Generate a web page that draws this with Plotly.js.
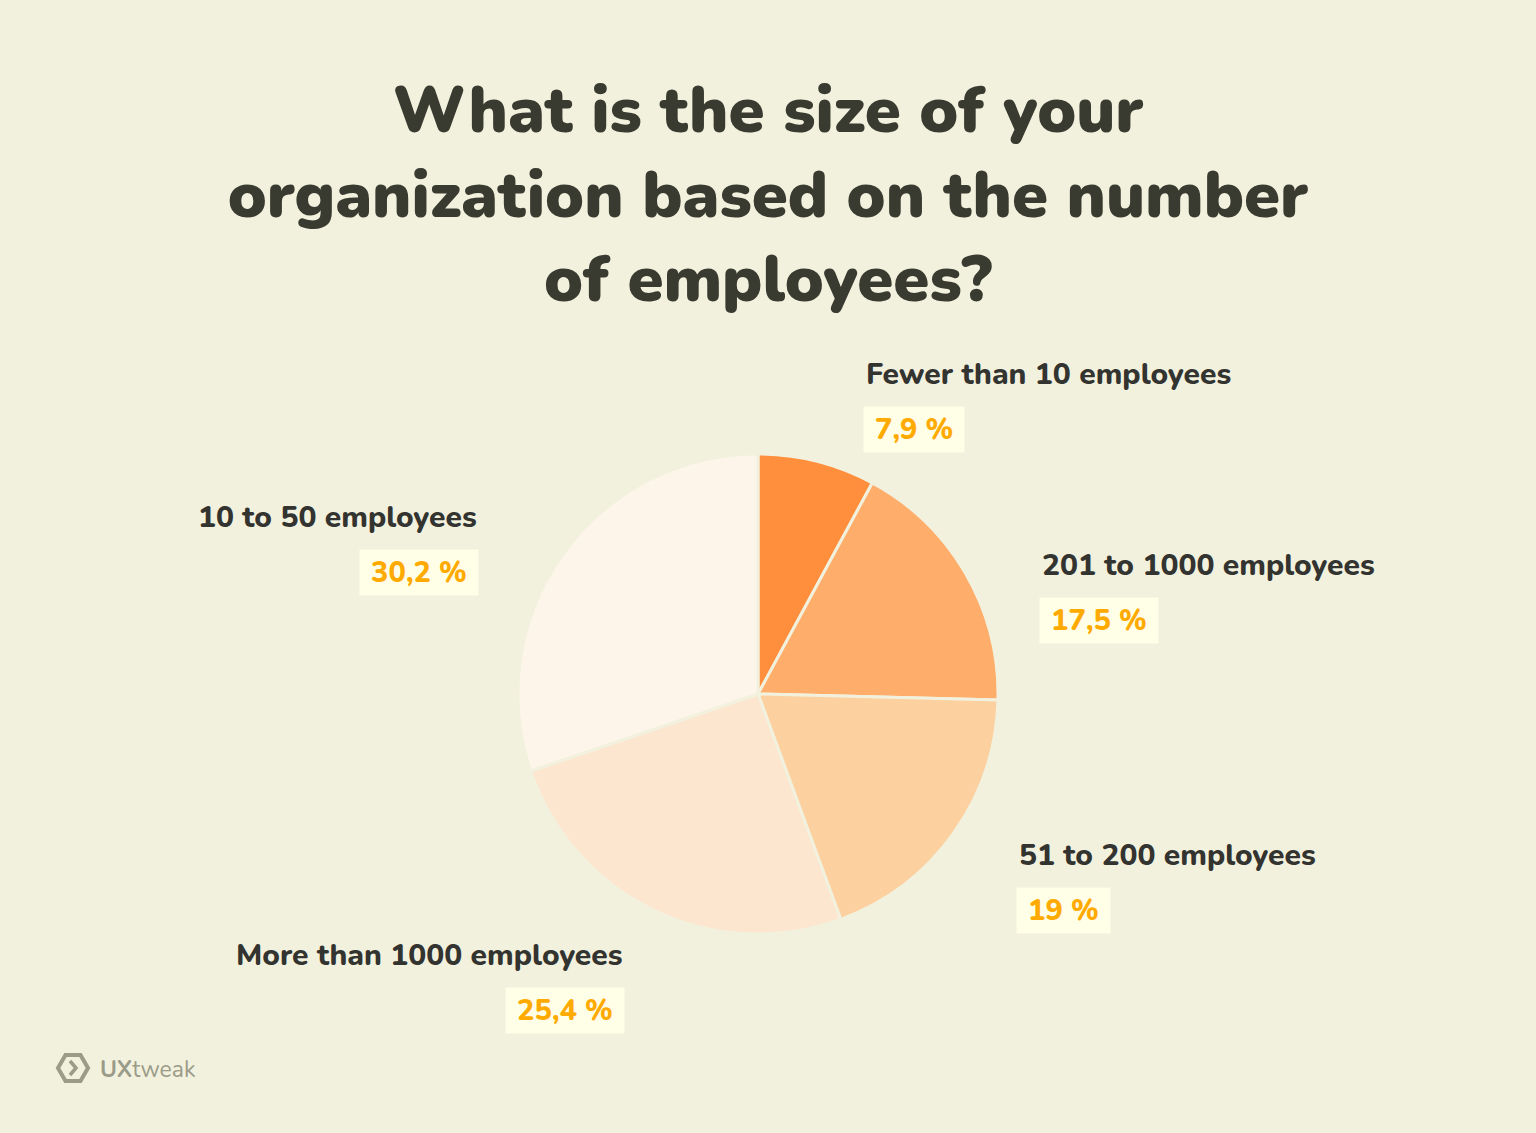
<!DOCTYPE html>
<html>
<head>
<meta charset="utf-8">
<script src="https://cdn.plot.ly/plotly-3.0.1.min.js"></script>
<style>
html,body{margin:0;padding:0;background:#F2F1DE;}
#chart{width:1536px;height:1133px;}
</style>
</head>
<body>
<div id="chart"></div>
<script>
const categories = ["Fewer than 10 employees", "201 to 1000 employees", "51 to 200 employees", "More than 1000 employees", "10 to 50 employees"];
const shares = [7.9, 17.5, 19, 25.4, 30.2];
const sliceColors = ["#FF8E3D", "#FEAD6A", "#FCD09F", "#FDE6CF", "#FEF5EA"];
const percentLabels = shares.map(v => String(v).replace('.', ',') + ' %');

const W = 1536, H = 1133;
const px = x => x / W;
const py = y => 1 - y / H;

const labelPos = [
  {x: 864, y: 375, side: 'left', by: 430},
  {x: 1040, y: 565, side: 'left', by: 620},
  {x: 1017, y: 855, side: 'left', by: 910},
  {x: 625, y: 955, side: 'right', by: 1010},
  {x: 479, y: 517, side: 'right', by: 572}
];

const FONT = "Nunito, Lato, 'Open Sans', sans-serif";
const NB = '\u00a0';
const annotations = [];
categories.forEach((c, i) => {
  const p = labelPos[i];
  annotations.push({
    xref: 'paper', yref: 'paper', x: px(p.x), y: py(p.y),
    xanchor: p.side, yanchor: 'middle', showarrow: false,
    text: c, font: {family: FONT, size: 30, color: '#333330', weight: 800}
  });
  annotations.push({
    xref: 'paper', yref: 'paper', x: px(p.side === 'left' ? p.x - 1 : p.x), y: py(p.by),
    xanchor: p.side, yanchor: 'middle', showarrow: false,
    text: NB + percentLabels[i] + NB, bgcolor: '#FFFEE6', borderpad: 3,
    font: {family: FONT, size: 29, color: '#FFAA00', weight: 800}
  });
});
annotations.push({
  xref: 'paper', yref: 'paper', x: px(98), y: py(1069), xanchor: 'left', yanchor: 'middle',
  showarrow: false, text: '<b>UX</b>tweak', font: {family: FONT, size: 23, color: '#9A9B88'}
});

function hexPath(cx, cy, r) {
  let d = '';
  for (let k = 0; k < 6; k++) {
    const a = Math.PI / 3 * k;
    const x = px(cx + r * Math.cos(a)), y = py(cy + r * Math.sin(a));
    d += (k === 0 ? 'M' : 'L') + x + ',' + y + ' ';
  }
  return d + 'Z';
}
const shapes = [
  {type: 'path', xref: 'paper', yref: 'paper', path: hexPath(73, 1068, 15),
   line: {color: '#9A9B88', width: 4}, fillcolor: 'rgba(0,0,0,0)'},
  {type: 'path', xref: 'paper', yref: 'paper',
   path: 'M' + px(70) + ',' + py(1061) + ' L' + px(76) + ',' + py(1068) + ' L' + px(70) + ',' + py(1075),
   line: {color: '#9A9B88', width: 3.5}}
];

const R = 240, CX = 758, CY = 694;
const data = [{
  type: 'pie',
  values: shares,
  labels: categories,
  sort: false,
  direction: 'clockwise',
  rotation: 0,
  textinfo: 'none',
  hoverinfo: 'label+percent',
  marker: {colors: sliceColors, line: {color: '#F2F1DE', width: 3}},
  domain: {x: [px(CX - R), px(CX + R)], y: [py(CY + R), py(CY - R)]},
  showlegend: false
}];

const layout = {
  width: W, height: H,
  margin: {l: 0, r: 0, t: 0, b: 0},
  paper_bgcolor: '#F2F1DE',
  plot_bgcolor: '#F2F1DE',
  title: {
    text: 'What is the size of your<br>organization based on the number<br>of employees?',
    x: 0.5, xanchor: 'center', y: py(132), yanchor: 'middle',
    font: {family: FONT, size: 65, color: '#3A3B30', weight: 900}
  },
  annotations: annotations,
  shapes: shapes
};

Plotly.newPlot('chart', data, layout, {displayModeBar: false, staticPlot: true});
</script>
</body>
</html>
